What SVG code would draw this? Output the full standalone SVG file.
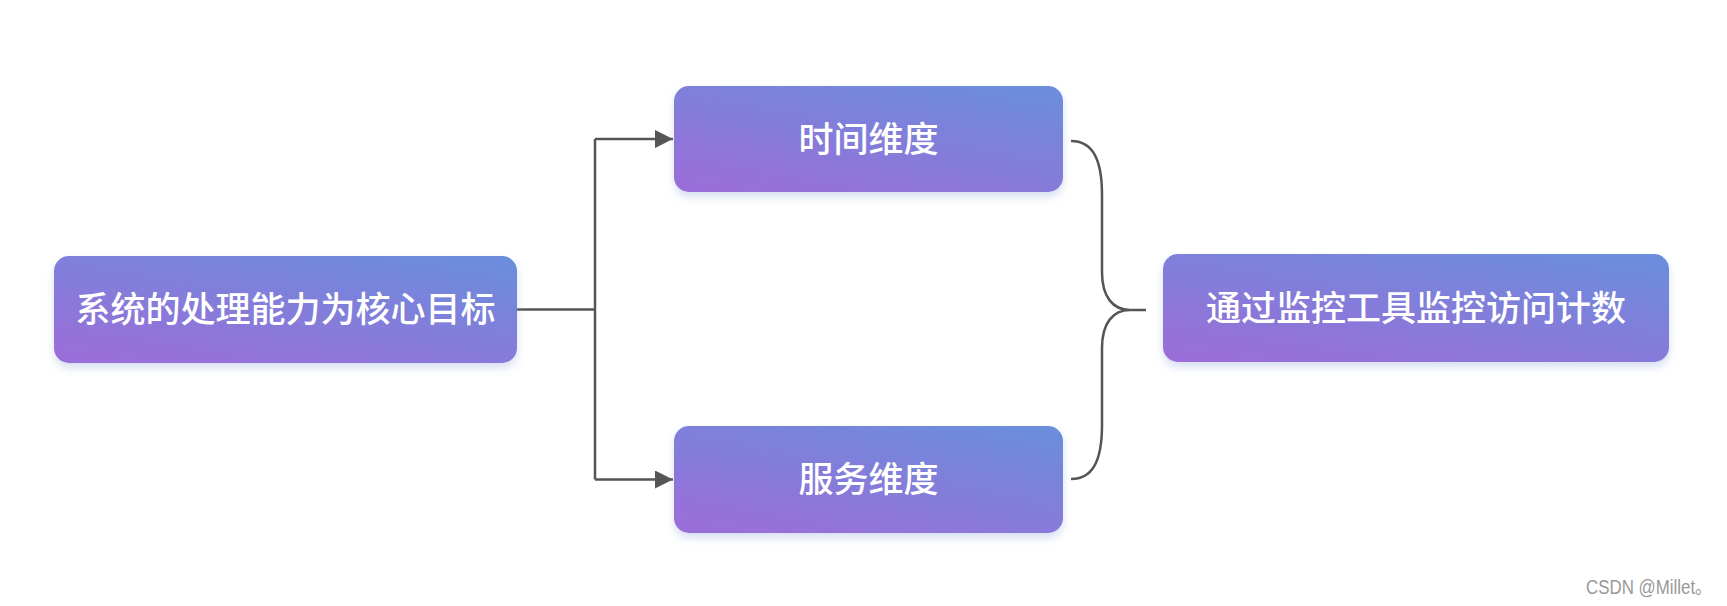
<svg xmlns="http://www.w3.org/2000/svg" width="1727" height="606" viewBox="0 0 1727 606">
<style>
.node rect{fill:url(#g);filter:url(#sh)}
.node text{fill:#ffffff;font-family:"Noto Sans CJK SC","Noto Sans",sans-serif;font-size:35px;font-weight:500;text-anchor:middle}
.conn{fill:none;stroke:#555555;stroke-width:2.5}
.wm{fill:#999999;font-family:"Liberation Sans","Noto Sans CJK SC",sans-serif;font-size:20px}
</style>
<defs>
<linearGradient id="g" x1="0.15" y1="1" x2="0.85" y2="0">
<stop offset="0" stop-color="#9A6ED8"/>
<stop offset="1" stop-color="#6C8CDC"/>
</linearGradient>
<filter id="sh" x="-10%" y="-20%" width="120%" height="150%">
<feDropShadow dx="0" dy="5" stdDeviation="4" flood-color="#8aa2d8" flood-opacity="0.35"/>
</filter>
<marker id="ah" markerWidth="18" markerHeight="18" refX="18" refY="9" orient="auto" markerUnits="userSpaceOnUse">
<path d="M0,0 L18,9 L0,18 Z" fill="#555555"/>
</marker>
</defs>
<g id="connectors">
<path class="conn" d="M517,309.5 L595,309.5"/>
<path class="conn" d="M595,139 L595,479.5"/>
<path class="conn" d="M595,139 L673,139" marker-end="url(#ah)"/>
<path class="conn" d="M595,479.5 L673,479.5" marker-end="url(#ah)"/>
<path class="conn" d="M1071,141 C1092,141 1102,158 1102,195 L1102,272 C1102,297 1113,310 1130,310 L1146,310 M1130,310 C1113,310 1102,323 1102,348 L1102,425 C1102,462 1092,479 1071,479"/>
</g>
<g id="node-left" class="node">
<rect x="54" y="256" width="463" height="107" rx="15"/>
<text x="285.5" y="322">系统的处理能力为核心目标</text>
</g>
<g id="node-time" class="node">
<rect x="674" y="86" width="389" height="106" rx="15"/>
<text x="868.5" y="151.5">时间维度</text>
</g>
<g id="node-service" class="node">
<rect x="674" y="426" width="389" height="107" rx="15"/>
<text x="868.5" y="492">服务维度</text>
</g>
<g id="node-right" class="node">
<rect x="1163" y="254" width="506" height="108" rx="15"/>
<text x="1416" y="321">通过监控工具监控访问计数</text>
</g>
<text class="wm" x="1586" y="594" textLength="126" lengthAdjust="spacingAndGlyphs">CSDN @Millet。</text>
</svg>
